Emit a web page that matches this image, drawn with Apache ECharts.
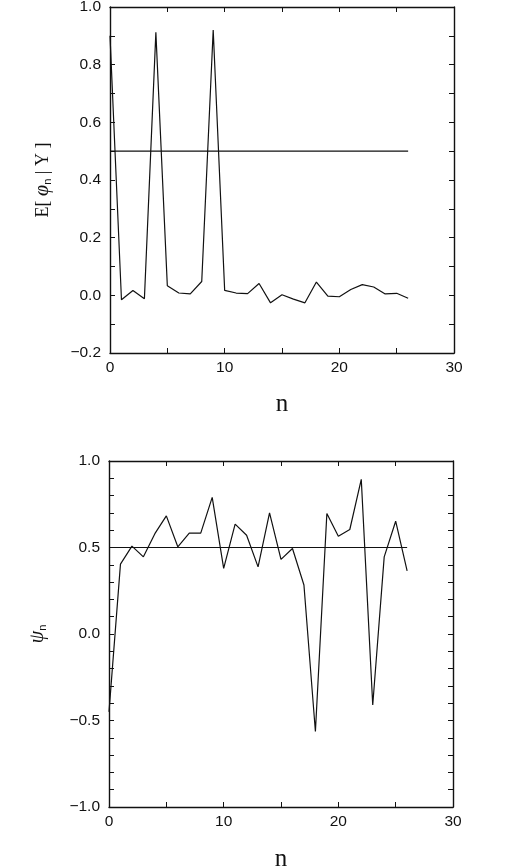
<!DOCTYPE html>
<html>
<head>
<meta charset="utf-8">
<script src="https://cdn.jsdelivr.net/npm/echarts@6/dist/echarts.min.js"></script>
<style>
  html, body { margin: 0; padding: 0; background: #fff; }
  #chart { width: 509px; height: 867px; }
</style>
</head>
<body>
<div id="chart"></div>
<script>
// index n = 0..26
var nValues = [0,1,2,3,4,5,6,7,8,9,10,11,12,13,14,15,16,17,18,19,20,21,22,23,24,25,26];
// top panel: E[phi_n | Y]
var phiMean = [0.90,-0.015,0.017,-0.012,0.912,0.033,0.008,0.005,0.048,0.92,0.017,0.008,0.006,0.041,-0.026,0.002,-0.013,-0.026,0.046,-0.003,-0.005,0.02,0.037,0.029,0.005,0.007,-0.01];
// bottom panel: psi_n
var psi = [-0.45,0.404,0.508,0.446,0.58,0.683,0.504,0.583,0.583,0.79,0.379,0.635,0.571,0.388,0.70,0.431,0.494,0.283,-0.564,0.696,0.565,0.604,0.894,-0.41,0.446,0.652,0.365];
// reference level
var refLevel = 0.5;
var refRange = [0, 26];

function pairs(xs, ys) {
  return xs.map(function (x, i) { return [x, ys[i]]; });
}

var myChart = echarts.init(document.getElementById('chart'));

var ink = '#111';
var tickFont = { color: ink, fontSize: 15.5, fontFamily: 'Liberation Sans, Arial, sans-serif' };

function xAx(grid, pos, show) {
  return {
    type: 'value', gridIndex: grid, position: pos, min: 0, max: 30, interval: 5,
    axisLine: { show: true, onZero: false, lineStyle: { color: ink, width: 1.4 } },
    axisTick: { show: true, inside: true, length: 5, lineStyle: { color: ink } },
    splitLine: { show: false },
    axisLabel: show ? Object.assign({ margin: 7, formatter: function (v) { return v % 10 === 0 ? v : ''; } }, tickFont) : { show: false },
    name: show ? 'n' : '', nameLocation: 'middle', nameGap: grid === 0 ? 39 : 40,
    nameTextStyle: { color: ink, fontSize: 25, fontFamily: 'Liberation Serif, Times New Roman, serif' }
  };
}

function yAx(grid, pos, show, min, max, every, name, gap) {
  return {
    type: 'value', gridIndex: grid, position: pos, min: min, max: max, interval: 0.1,
    axisLine: { show: true, onZero: false, lineStyle: { color: ink, width: 1.4 } },
    axisTick: { show: true, inside: true, length: 5, lineStyle: { color: ink } },
    splitLine: { show: false },
    axisLabel: show ? Object.assign({ margin: 9, formatter: function (v) {
      var k = Math.round(v * 10);
      if (k % every !== 0) return '';
      return (k < 0 ? '\u2212' : '') + (Math.abs(k) / 10).toFixed(1);
    } }, tickFont) : { show: false },
    name: show ? name : '', nameLocation: 'middle', nameGap: gap, nameRotate: 90,
    nameTextStyle: {
      color: ink, fontSize: 18, fontFamily: 'Liberation Serif, Times New Roman, serif',
      rich: {
        a: { fontSize: 18, fontFamily: 'Liberation Serif, serif', color: ink },
        g: { fontSize: 20, fontStyle: 'italic', fontFamily: 'Liberation Serif, serif', color: ink },
        s: { fontSize: 11, fontFamily: 'Liberation Sans, sans-serif', color: ink, verticalAlign: 'bottom', padding: [8, 0, 0, 0] }
      }
    }
  };
}

var lineStyle = { color: ink, width: 1.2 };

var option = {
  backgroundColor: '#fff',
  animation: false,
  grid: [
    { left: 110, right: 55, top: 7, height: 346, outerBoundsMode: 'none' },
    { left: 109, right: 56, top: 461, height: 346, outerBoundsMode: 'none' }
  ],
  xAxis: [
    xAx(0, 'bottom', true), xAx(0, 'top', false),
    xAx(1, 'bottom', true), xAx(1, 'top', false)
  ],
  yAxis: [
    yAx(0, 'left', true, -0.2, 1.0, 2, '{a|E[ }{g|φ}{s|n}{a| | Y ]}', 57),
    yAx(0, 'right', false, -0.2, 1.0, 2, '', 0),
    yAx(1, 'left', true, -1.0, 1.0, 5, '{g|ψ}{s|n}', 61),
    yAx(1, 'right', false, -1.0, 1.0, 5, '', 0)
  ],
  series: [
    { type: 'line', xAxisIndex: 0, yAxisIndex: 0, data: pairs(nValues, phiMean), showSymbol: false, lineStyle: lineStyle },
    { type: 'line', xAxisIndex: 0, yAxisIndex: 0, data: pairs(refRange, [refLevel, refLevel]), showSymbol: false, lineStyle: lineStyle },
    { type: 'line', xAxisIndex: 2, yAxisIndex: 2, data: pairs(nValues, psi), showSymbol: false, lineStyle: lineStyle },
    { type: 'line', xAxisIndex: 2, yAxisIndex: 2, data: pairs(refRange, [refLevel, refLevel]), showSymbol: false, lineStyle: lineStyle }
  ]
};
myChart.setOption(option);
</script>
</body>
</html>
